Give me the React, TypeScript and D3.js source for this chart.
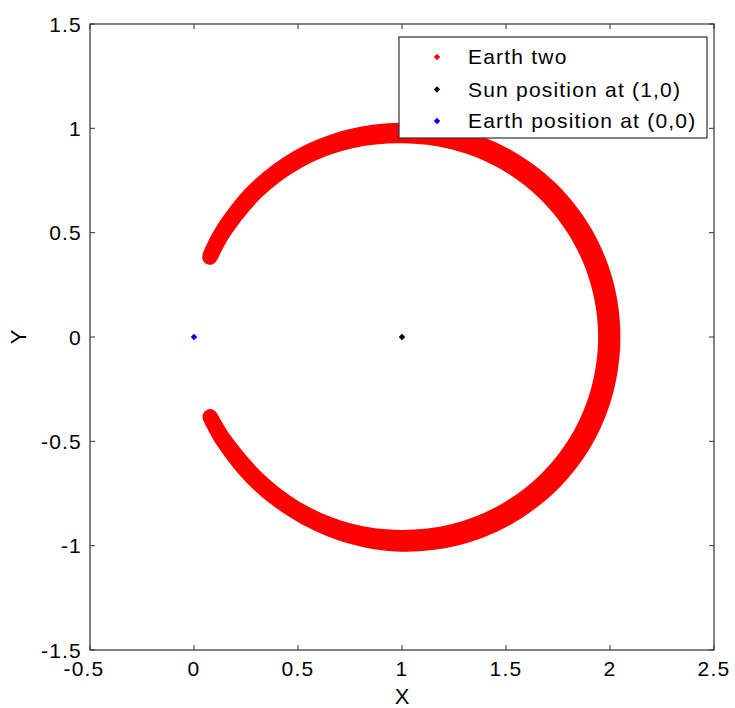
import React from "react";
import * as d3 from "d3";

// Axis ticks
const xTicks = [-0.5, 0, 0.5, 1, 1.5, 2, 2.5];
const yTicks = [-1.5, -1, -0.5, 0, 0.5, 1, 1.5];

// "Earth two" trajectory band around the Sun: polar angle (degrees, from the Sun)
// with the inner and outer radius of the band of plotted points
const orbitAngles = [
  -157.5, -150, -135, -120, -105, -90, -75, -60, -45, -30, -15, 0,
  15, 30, 45, 60, 75, 90, 105, 120, 135, 150, 157.5,
];
const orbitInner = [
  0.962, 0.95, 0.935, 0.93, 0.927, 0.925, 0.928, 0.932, 0.937, 0.94, 0.942, 0.943,
  0.942, 0.94, 0.937, 0.934, 0.93, 0.928, 0.935, 0.944, 0.95, 0.958, 0.962,
];
const orbitOuter = [
  1.035, 1.03, 1.022, 1.018, 1.022, 1.029, 1.035, 1.04, 1.045, 1.049, 1.05, 1.05,
  1.05, 1.048, 1.044, 1.038, 1.032, 1.027, 1.028, 1.032, 1.035, 1.038, 1.038,
];

// Reference positions
const sunPos = [1, 0];
const earthPos = [0, 0];

const legendLabels = ["Earth two", "Sun position at (1,0)", "Earth position at (0,0)"];
const legendColors = ["#ff0000", "#000000", "#0000ee"];

const W = 735;
const H = 708;
const plot = { left: 90, right: 714, top: 24, bottom: 650 };
const FONT = "'Liberation Sans', Arial, Helvetica, sans-serif";
const AXIS = "#333333";
const FS = 21;
const LS = 1.2;

export default function App() {
  const x = d3.scaleLinear().domain([-0.5, 2.5]).range([plot.left, plot.right]);
  const y = d3.scaleLinear().domain([-1.5, 1.5]).range([plot.bottom, plot.top]);

  const band = orbitAngles.map((a, i) => {
    const t = (a * Math.PI) / 180;
    const c = Math.cos(t);
    const s = Math.sin(t);
    const mid = (orbitInner[i] + orbitOuter[i]) / 2;
    return {
      x0: x(sunPos[0] + orbitInner[i] * c),
      y0: y(sunPos[1] + orbitInner[i] * s),
      x1: x(sunPos[0] + orbitOuter[i] * c),
      y1: y(sunPos[1] + orbitOuter[i] * s),
      xm: x(sunPos[0] + mid * c),
      ym: y(sunPos[1] + mid * s),
      w: (orbitOuter[i] - orbitInner[i]) * (x(1) - x(0)),
    };
  });

  const area = d3
    .area<any>()
    .x0((d) => d.x0)
    .y0((d) => d.y0)
    .x1((d) => d.x1)
    .y1((d) => d.y1)
    .curve(d3.curveCatmullRom);
  const centre = d3
    .line<any>()
    .x((d) => d.xm)
    .y((d) => d.ym)
    .curve(d3.curveCatmullRom);
  const capWidth = Math.min(band[0].w, band[band.length - 1].w);

  const diamond = (cx: number, cy: number, color: string, key: string) => (
    <rect
      key={key}
      x={cx - 2.3}
      y={cy - 2.3}
      width={4.6}
      height={4.6}
      fill={color}
      transform={`rotate(45 ${cx} ${cy})`}
    />
  );

  const tickLen = 5;
  const legend = { x: 399, y: 37, w: 308, h: 101 };
  const legendRowY = [57, 89.5, 121];

  return (
    <svg
      width={W}
      height={H}
      style={{ position: "absolute", left: 0, top: 0, background: "#fff" }}
      fontFamily={FONT}
    >
      <rect x={0} y={0} width={W} height={H} fill="#fff" />

      {/* Earth two trajectory */}
      <path d={area(band) || ""} fill="#ff0000" />
      <path
        d={centre(band) || ""}
        fill="none"
        stroke="#ff0000"
        strokeWidth={capWidth}
        strokeLinecap="round"
      />

      {/* Sun and Earth */}
      {diamond(x(sunPos[0]), y(sunPos[1]), "#000000", "sun")}
      {diamond(x(earthPos[0]), y(earthPos[1]), "#0000ee", "earth")}

      {/* Axes box */}
      <rect
        x={plot.left}
        y={plot.top}
        width={plot.right - plot.left}
        height={plot.bottom - plot.top}
        fill="none"
        stroke={AXIS}
        strokeWidth={1.2}
      />
      {xTicks.map((t) => (
        <g key={"xt" + t}>
          <line x1={x(t)} x2={x(t)} y1={plot.bottom} y2={plot.bottom - tickLen} stroke={AXIS} />
          <line x1={x(t)} x2={x(t)} y1={plot.top} y2={plot.top + tickLen} stroke={AXIS} />
          <text
            x={x(t) - (t < 0 ? 6 : 0)}
            y={676}
            textAnchor="middle"
            fontSize={FS}
            letterSpacing={LS}
            fill="#000"
          >
            {t}
          </text>
        </g>
      ))}
      {yTicks.map((t) => (
        <g key={"yt" + t}>
          <line x1={plot.left} x2={plot.left + tickLen} y1={y(t)} y2={y(t)} stroke={AXIS} />
          <line x1={plot.right} x2={plot.right - tickLen} y1={y(t)} y2={y(t)} stroke={AXIS} />
          <text
            x={82}
            y={y(t)}
            dy="0.36em"
            textAnchor="end"
            fontSize={FS}
            letterSpacing={LS}
            fill="#000"
          >
            {t}
          </text>
        </g>
      ))}

      {/* Axis titles */}
      <text x={(plot.left + plot.right) / 2} y={704} textAnchor="middle" fontSize={22} fill="#000">
        X
      </text>
      <text
        transform={`translate(26 ${y(0)}) rotate(-90)`}
        textAnchor="middle"
        fontSize={22}
        fill="#000"
      >
        Y
      </text>

      {/* Legend */}
      <rect
        x={legend.x}
        y={legend.y}
        width={legend.w}
        height={legend.h}
        fill="#fff"
        stroke={AXIS}
        strokeWidth={1.2}
      />
      {legendLabels.map((lab, i) => (
        <g key={"lg" + i}>
          {diamond(437, legendRowY[i], legendColors[i], "lm" + i)}
          <text x={468} y={legendRowY[i] + 7} fontSize={FS} letterSpacing={LS} fill="#000">
            {lab}
          </text>
        </g>
      ))}
    </svg>
  );
}
